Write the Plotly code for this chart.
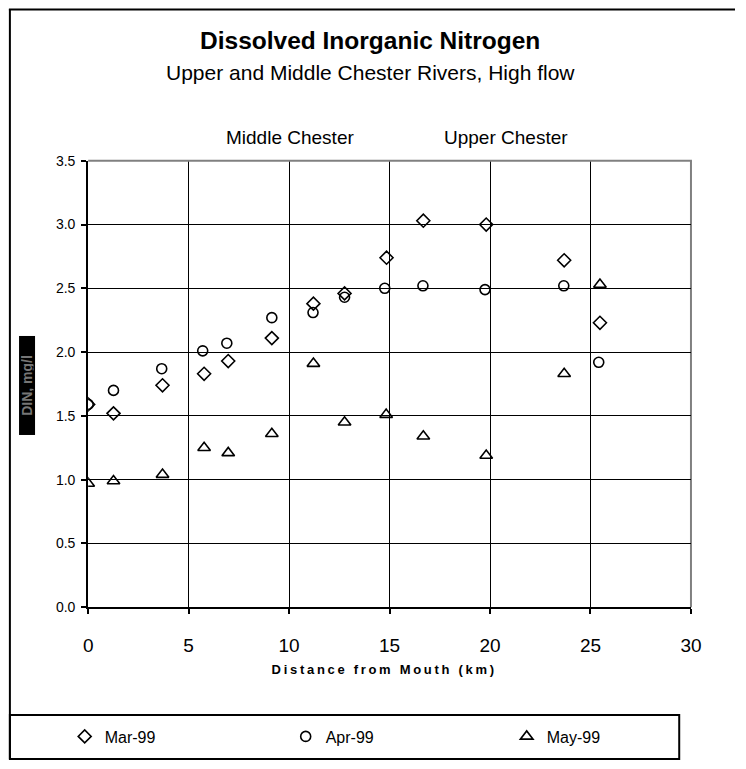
import plotly.graph_objects as go

# ---- data ----
mar_x = [0.0, 1.26, 3.70, 5.77, 6.97, 9.14, 11.21, 12.76, 14.85, 16.68, 19.81, 23.69, 25.47]
mar_y = [1.59, 1.52, 1.74, 1.83, 1.93, 2.11, 2.38, 2.46, 2.74, 3.03, 3.00, 2.72, 2.23]

apr_x = [0.0, 1.26, 3.66, 5.70, 6.90, 9.14, 11.19, 12.76, 14.76, 16.66, 19.75, 23.67, 25.41]
apr_y = [1.59, 1.70, 1.87, 2.01, 2.07, 2.27, 2.31, 2.43, 2.50, 2.52, 2.49, 2.52, 1.92]

may_x = [0.0, 1.26, 3.70, 5.77, 6.97, 9.14, 11.21, 12.76, 14.83, 16.68, 19.81, 23.69, 25.47]
may_y = [0.97, 0.99, 1.04, 1.25, 1.21, 1.36, 1.91, 1.45, 1.51, 1.34, 1.19, 1.83, 2.53]

series_names = ["Mar-99", "Apr-99", "May-99"]
x_ticks = [0, 5, 10, 15, 20, 25, 30]
y_ticks = [0.0, 0.5, 1.0, 1.5, 2.0, 2.5, 3.0, 3.5]

W, H = 746, 769
FONT = "Liberation Sans, Arial, sans-serif"


def px(x):
    return x / W


def py(y):
    return 1 - y / H


fig = go.Figure()
symbols = ["diamond-open", "circle-open", "triangle-up-open"]
for name, xs, ys, sym, sz in zip(series_names, [mar_x, apr_x, may_x], [mar_y, apr_y, may_y], symbols, [10, 10, 11]):
    fig.add_trace(go.Scatter(
        x=xs, y=ys, mode="markers", name=name,
        marker=dict(symbol=sym, size=sz, color="black", line=dict(color="black", width=1.6)),
    ))

# plot area in pixels: x 85..701, y 156..612
fig.update_layout(
    width=W, height=H,
    margin=dict(l=0, r=0, t=0, b=0, pad=0),
    paper_bgcolor="white", plot_bgcolor="white",
    font=dict(family=FONT, color="black"),
    showlegend=True,
    legend=dict(
        orientation="h", x=px(61), xanchor="left", y=py(744), yanchor="middle",
        entrywidth=176, entrywidthmode="pixels", borderwidth=0, bgcolor="rgba(0,0,0,0)",
        font=dict(size=16, family=FONT, color="black"), itemsizing="trace",
    ),
    xaxis=dict(
        domain=[px(85), px(701)], range=[0, 30], tickvals=x_ticks,
        showgrid=True, gridcolor="black", gridwidth=1,
        showline=True, linecolor="black", linewidth=2,
        ticks="outside", ticklen=5, tickwidth=2, tickcolor="black",
        tickfont=dict(size=19, family=FONT, color="black"), ticklabelstandoff=15,
        zeroline=False, fixedrange=True,
    ),
    yaxis=dict(
        domain=[py(612), py(156)], range=[0, 3.5], tickvals=y_ticks, tickformat=".1f",
        showgrid=True, gridcolor="black", gridwidth=1,
        showline=True, linecolor="black", linewidth=2,
        ticks="outside", ticklen=5, tickwidth=2, tickcolor="black",
        tickfont=dict(size=14, family=FONT, color="black"), ticklabelstandoff=3,
        zeroline=False, fixedrange=True,
    ),
)

shapes = [
    # plot-area border (grey top and right)
    dict(type="line", xref="paper", yref="paper", x0=px(85), x1=px(702), y0=py(156), y1=py(156),
         line=dict(color="#808080", width=2)),
    dict(type="line", xref="paper", yref="paper", x0=px(701), x1=px(701), y0=py(156), y1=py(612),
         line=dict(color="#808080", width=2), layer="below"),
    # outer chart frame (top and left)
    dict(type="line", xref="paper", yref="paper", x0=px(4), x1=px(746), y0=py(1.5), y1=py(1.5),
         line=dict(color="black", width=2)),
    dict(type="line", xref="paper", yref="paper", x0=px(5), x1=px(5), y0=py(1), y1=py(767),
         line=dict(color="black", width=2)),
    # legend box
    dict(type="rect", xref="paper", yref="paper", x0=px(5), x1=px(689), y0=py(722), y1=py(767),
         line=dict(color="black", width=2)),
]
fig.update_layout(shapes=shapes)

annotations = [
    dict(text="<b>Dissolved Inorganic Nitrogen</b>", x=0.5, y=py(33), xref="paper", yref="paper",
         showarrow=False, font=dict(size=24.5, family=FONT), xanchor="center", yanchor="middle"),
    dict(text="Upper and Middle Chester Rivers, High flow", x=0.5, y=py(66), xref="paper", yref="paper",
         showarrow=False, font=dict(size=21, family=FONT), xanchor="center", yanchor="middle"),
    dict(text="Middle Chester", x=px(291), y=py(132), xref="paper", yref="paper",
         showarrow=False, font=dict(size=19, family=FONT), xanchor="center", yanchor="middle"),
    dict(text="Upper Chester", x=px(512), y=py(132), xref="paper", yref="paper",
         showarrow=False, font=dict(size=19, family=FONT), xanchor="center", yanchor="middle"),
    dict(text="<b>Distance from Mouth (km)</b>", x=px(387), y=py(676), xref="paper", yref="paper",
         showarrow=False, font=dict(size=13, family=FONT), xanchor="center", yanchor="middle"),
    dict(text="<b>DIN, mg/l</b>", x=px(23), y=py(386), xref="paper", yref="paper",
         showarrow=False, textangle=-90, bgcolor="black", width=96, height=13,
         font=dict(size=14, family=FONT, color="#767676"), xanchor="center", yanchor="middle"),
]
fig.update_layout(annotations=annotations)

post = (
    "var s=document.createElement('style');"
    "s.textContent='html,body{margin:0!important;padding:0!important;overflow:hidden!important;}';"
    "document.head.appendChild(s);"
    "document.querySelectorAll('text').forEach(function(t){"
    "if(t.textContent==='Distance from Mouth (km)'){t.style.letterSpacing='2.7px';}});"
)

fig.write_html("out.html", config={"displayModeBar": False}, post_script=post)
